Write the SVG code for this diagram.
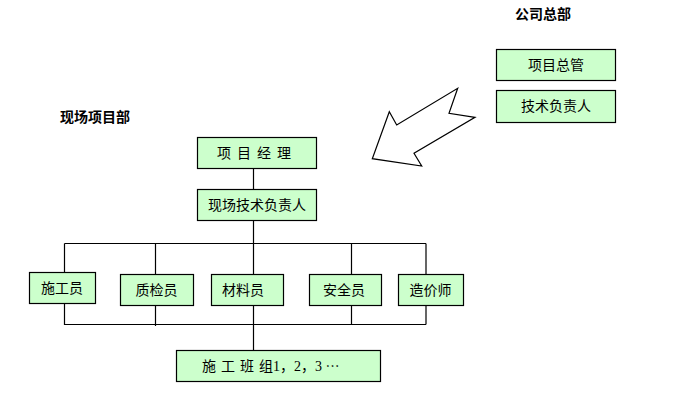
<svg xmlns="http://www.w3.org/2000/svg" width="684" height="410" viewBox="0 0 684 410">
<style>
.box{fill:#CCFFCC;stroke:#000;stroke-width:1.2}
.t{font-family:"Noto Sans CJK SC","Noto Sans",sans-serif;font-size:14px;fill:#000;text-anchor:middle}
.h{font-family:"Noto Sans CJK SC","Noto Sans",sans-serif;font-size:14px;font-weight:bold;fill:#000;text-anchor:middle}
.ln{stroke:#000;stroke-width:1.2;fill:none}
.d{font-family:"Liberation Serif",serif}
</style>
<rect width="684" height="410" fill="#fff"/>
<text class="h" x="543" y="19">公司总部</text>
<text class="h" x="95" y="122">现场项目部</text>
<g id="hq1"><rect class="box" x="496.5" y="49.5" width="119" height="31"/><text class="t" x="556" y="70">项目总管</text></g>
<g id="hq2"><rect class="box" x="496.5" y="90.5" width="119" height="32"/><text class="t" x="556" y="111">技术负责人</text></g>
<g id="arrow"><polygon points="457.7,88.3 449,113.3 475,117.3 414,153.3 421.7,166 372.3,158.7 389.3,111.7 396.7,125" fill="#fff" stroke="#000" stroke-width="1.2"/></g>
<g id="connectors">
<path class="ln" d="M253.5,168 V190 M253.5,220 V274 M64.5,243.5 H426 M64.5,243.5 V272 M155.5,243.5 V274 M351.5,243.5 V274 M426,243.5 V274 M64.5,303 V324.5 H426 M426,305 V324.5 M155.5,305 V326 M351.5,305 V324.5 M253.5,305 V350"/>
</g>
<g id="pm"><rect class="box" x="197.5" y="137.5" width="119" height="31"/><text class="t" x="257" y="158" letter-spacing="6">项目经理</text></g>
<g id="tech"><rect class="box" x="197.5" y="189.5" width="119" height="31"/><text class="t" x="257" y="210">现场技术负责人</text></g>
<g id="n1"><rect class="box" x="29.5" y="272.5" width="66" height="31"/><text class="t" x="62" y="293">施工员</text></g>
<g id="n2"><rect class="box" x="120.5" y="274.5" width="73" height="31"/><text class="t" x="156.5" y="295">质检员</text></g>
<g id="n3"><rect class="box" x="211.5" y="274.5" width="72" height="31"/><text class="t" x="243" y="295">材料员</text></g>
<g id="n4"><rect class="box" x="309.5" y="274.5" width="72" height="31"/><text class="t" x="344" y="295">安全员</text></g>
<g id="n5"><rect class="box" x="398.5" y="274.5" width="65" height="31"/><text class="t" x="430.5" y="295">造价师</text></g>
<g id="teams"><rect class="box" x="176.5" y="350.5" width="204" height="31"/><text class="t" x="202" y="371" style="text-anchor:start"><tspan letter-spacing="5">施工班</tspan><tspan>组</tspan><tspan class="d">1</tspan>，<tspan class="d">2</tspan>，<tspan class="d">3 </tspan>…</text></g>
</svg>
